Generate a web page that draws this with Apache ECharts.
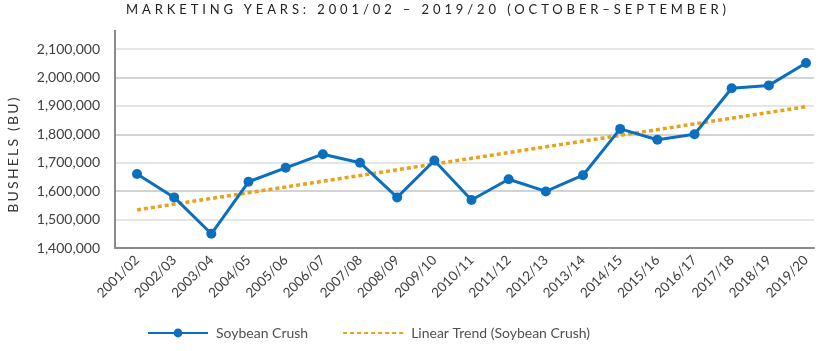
<!DOCTYPE html>
<html>
<head>
<meta charset="utf-8">
<script src="https://cdn.jsdelivr.net/npm/echarts@6/dist/echarts.min.js"></script>
<style>
  html, body { margin: 0; padding: 0; background: #fff; }
  #wrap { position: relative; width: 825px; height: 351px; }
  #chart { width: 825px; height: 351px; }
  #title {
    position: absolute; left: 0; top: 0; width: 825px; text-align: center;
    font-family: Lato, sans-serif; font-size: 13px; letter-spacing: 3.9px;
    color: #222; line-height: 18px; padding-left: 31px; box-sizing: border-box;
  }
  #yname {
    position: absolute; left: 13px; top: 154px; width: 160px; text-align: center;
    transform: translate(-50%, -50%) rotate(-90deg);
    font-family: Lato, sans-serif; font-size: 14px; letter-spacing: 2.2px;
    color: #333; line-height: 16px;
  }
</style>
</head>
<body>
<div id="wrap">
  <div id="chart"></div>
  <div id="title">MARKETING YEARS: 2001/02 – 2019/20 (OCTOBER–SEPTEMBER)</div>
  <div id="yname">BUSHELS (BU)</div>
</div>
<script>
const years = ['2001/02', '2002/03', '2003/04', '2004/05', '2005/06', '2006/07', '2007/08',
  '2008/09', '2009/10', '2010/11', '2011/12', '2012/13', '2013/14', '2014/15', '2015/16',
  '2016/17', '2017/18', '2018/19', '2019/20'];

// soybean crush, bushels
const crush = [1660000, 1578000, 1450000, 1633000, 1682000, 1730000, 1700000,
  1578000, 1708000, 1569000, 1642000, 1599000, 1656000, 1819000, 1781000,
  1800000, 1962000, 1972000, 2051000];

// linear trend, read at first and last year
const trendStart = 1534000;
const trendEnd = 1897000;

const yMin = 1400000;
const yMax = 2100000;
const yStep = 100000;

const blue = '#0b6fbd';
const orange = '#e8a21c';
const font = 'Lato, sans-serif';

const chartDom = document.getElementById('chart');
const myChart = echarts.init(chartDom);

const option = {
  animation: false,
  grid: [
    { left: 115, right: 11, top: 49, bottom: 103 },
    { left: 137, right: 19, top: 49, bottom: 103 }
  ],
  xAxis: [
    {
      gridIndex: 0,
      type: 'value',
      min: 0,
      max: 1,
      axisLine: { show: true, onZero: false, lineStyle: { color: '#8a8a8a', width: 2 } },
      axisTick: { show: false },
      axisLabel: { show: false },
      splitLine: { show: false }
    },
    {
      gridIndex: 1,
      type: 'category',
      data: years,
      boundaryGap: false,
      axisLine: { show: false },
      axisTick: { show: false },
      axisLabel: {
        rotate: 45,
        margin: 10,
        fontSize: 13.5,
        color: '#404040',
        fontFamily: font,
        interval: 0
      }
    }
  ],
  yAxis: [
    {
      gridIndex: 0,
      type: 'value',
      min: yMin,
      max: yMax,
      interval: yStep,
      axisLine: { show: true, lineStyle: { color: '#8a8a8a', width: 2 } },
      axisTick: { show: false },
      axisLabel: {
        margin: 15,
        fontSize: 14,
        color: '#404040',
        fontFamily: font,
        formatter: v => v.toLocaleString('en-US')
      },
      splitLine: { lineStyle: { color: ['#c4c4c4', '#dcdcdc'], width: 1.5 } }
    },
    {
      gridIndex: 1,
      type: 'value',
      min: yMin,
      max: yMax,
      interval: yStep,
      show: false,
      splitLine: { show: false }
    }
  ],
  legend: {
    left: 147,
    top: 326,
    padding: 0,
    itemWidth: 60,
    itemHeight: 11,
    itemGap: 34,
    textStyle: { fontSize: 14, color: '#505050', fontFamily: font, padding: [0, 0, 0, 3] },
    data: [
      'Soybean Crush',
      { name: 'Linear Trend (Soybean Crush)', itemStyle: { opacity: 0 } }
    ]
  },
  graphic: [
    {
      type: 'line',
      shape: { x1: 115, y1: 30, x2: 115, y2: 49 },
      style: { stroke: '#8a8a8a', lineWidth: 2 }
    }
  ],
  series: [
    {
      name: 'Linear Trend (Soybean Crush)',
      type: 'line',
      xAxisIndex: 1,
      yAxisIndex: 1,
      data: [[years[0], trendStart], [years[years.length - 1], trendEnd]],
      symbol: 'none',
      itemStyle: { color: orange },
      lineStyle: { color: orange, width: 3.5, type: [4, 3] },
      z: 2
    },
    {
      name: 'Soybean Crush',
      type: 'line',
      xAxisIndex: 1,
      yAxisIndex: 1,
      data: crush,
      symbol: 'circle',
      symbolSize: 10,
      itemStyle: { color: blue },
      lineStyle: { color: blue, width: 3 },
      z: 3
    }
  ]
};

myChart.setOption(option);
</script>
</body>
</html>
